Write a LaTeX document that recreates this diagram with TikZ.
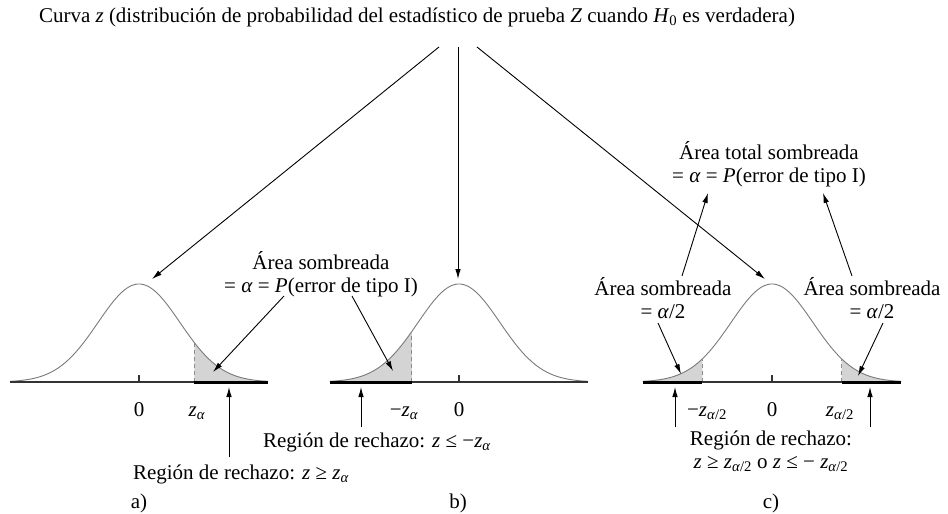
\documentclass[tikz,border=0pt]{standalone}
\usepackage{fontspec}
\setmainfont{Liberation Serif}
\usetikzlibrary{arrows.meta}
\newcommand\mz{\textit{z}}
\newcommand\mal{\textit{α}}
\newcommand\msub[1]{\textsubscript{#1}}
\begin{document}
\begin{tikzpicture}[x=1pt,y=-1pt,
  lab/.style={font=\fontsize{21}{23}\selectfont, inner sep=0pt, align=center},
  arr/.style={-{Latex[length=10pt,width=5.5pt]}, line width=0.9pt, black},
  bell/.style={draw=black!52, line width=0.9pt},
  shadereg/.style={fill=black!17},
  dashln/.style={draw=black!45, line width=0.9pt, dash pattern=on 4pt off 3pt},
  axisln/.style={draw=black!80, line width=1.1pt},
  rejln/.style={draw=black, line width=3pt}]
\useasboundingbox (0,0) rectangle (948,514);

% ---------- shading ----------
\fill[shadereg] (194.35,382) -- plot[domain=1.35:3.15,samples=40] ({139+41*\x},{382-98*exp(-0.5*(\x)*(\x))}) -- (268.15,382) -- cycle;
\fill[shadereg] (329.85,382) -- plot[domain=-3.15:-1.15,samples=40] ({459+41*\x},{382-98*exp(-0.5*(\x)*(\x))}) -- (411.85,382) -- cycle;
\fill[shadereg] (642.85,382) -- plot[domain=-3.15:-1.7,samples=40] ({772+41*\x},{382-98*exp(-0.5*(\x)*(\x))}) -- (702.3,382) -- cycle;
\fill[shadereg] (841.7,382) -- plot[domain=1.7:3.15,samples=40] ({772+41*\x},{382-98*exp(-0.5*(\x)*(\x))}) -- (901.15,382) -- cycle;

% ---------- curves ----------
\draw[bell] plot[domain=-3.15:3.15,samples=120] ({139+41*\x},{382-98*exp(-0.5*(\x)*(\x))});
\draw[bell] plot[domain=-3.15:3.15,samples=120] ({459+41*\x},{382-98*exp(-0.5*(\x)*(\x))});
\draw[bell] plot[domain=-3.15:3.15,samples=120] ({772+41*\x},{382-98*exp(-0.5*(\x)*(\x))});

% ---------- dashed boundaries ----------
\draw[dashln] (194.35,382) -- (194.35,{382-98*exp(-0.5*1.35*1.35)});
\draw[dashln] (411.85,382) -- (411.85,{382-98*exp(-0.5*1.15*1.15)});
\draw[dashln] (702.3,382) -- (702.3,{382-98*exp(-0.5*1.7*1.7)});
\draw[dashln] (841.7,382) -- (841.7,{382-98*exp(-0.5*1.7*1.7)});

% ---------- axes ----------
\draw[axisln] (10,382) -- (268,382);
\draw[axisln] (330,382) -- (588,382);
\draw[axisln] (643,382) -- (901,382);
\draw[axisln] (139,382) -- (139,375);
\draw[axisln] (459,382) -- (459,375);
\draw[axisln] (772,382) -- (772,375);
\draw[rejln] (194.35,382) -- (268,382);
\draw[rejln] (330,382) -- (411.85,382);
\draw[rejln] (643,382) -- (702.3,382);
\draw[rejln] (841.7,382) -- (901,382);

% ---------- labels ----------
\node[lab] (title) at (417,17) {Curva \mz{} (distribución de probabilidad del estadístico de prueba \textit{Z} cuando \textit{H}\msub{0} es verdadera)};
\node[lab] (areaAB) at (321,274) {Área sombreada\\= \mal{} = \textit{P}(error de tipo I)};
\node[lab] (areaT) at (769,164) {Área total sombreada\\= \mal{} = \textit{P}(error de tipo I)};
\node[lab] (areaL) at (663,298) {Área sombreada\\= \mal/2};
\node[lab] (areaR) at (872,298) {Área sombreada\\= \mal/2};

\node[lab,anchor=base] (zeroA) at (139,416) {0};
\node[lab,anchor=base] (zeroB) at (459,416) {0};
\node[lab,anchor=base] (zeroC) at (772,416) {0};
\node[lab,anchor=base] (za) at (197,416) {\mz\msub{\mal}};
\node[lab,anchor=base] (mza) at (404,416) {−\mz\msub{\mal}};
\node[lab,anchor=base] (mza2) at (707,416) {−\mz\msub{\mal/2}};
\node[lab,anchor=base] (za2) at (840,416) {\mz\msub{\mal/2}};

\node[lab] (rejA) at (241,474) {Región de rechazo: \mz{} ≥ \mz\msub{\mal}};
\node[lab] (rejB) at (377,442) {Región de rechazo: \mz{} ≤ −\mz\msub{\mal}};
\node[lab] (rejC) at (771,451) {Región de rechazo:\\\mz{} ≥ \mz\msub{\mal/2} o \mz{} ≤ − \mz\msub{\mal/2}};
\node[lab] (pa) at (139,503) {a)};
\node[lab] (pb) at (458,503) {b)};
\node[lab] (pc) at (771,503) {c)};

% ---------- connector end points ----------
\coordinate (t1) at (439,47);
\coordinate (t2) at (458,47);
\coordinate (t3) at (477,47);
\coordinate (pkA) at (152,279);
\coordinate (pkB) at (458,279);
\coordinate (pkC) at (765,279);
\coordinate (abL) at (284,296);
\coordinate (abR) at (352,296);
\coordinate (shA) at (213,372);
\coordinate (shB) at (393,371);
\coordinate (cL1) at (682,276);
\coordinate (cR1) at (852,276);
\coordinate (tL) at (708,193);
\coordinate (tR) at (823,193);
\coordinate (cL2) at (658,323);
\coordinate (cR2) at (883,323);
\coordinate (shCL) at (681,374);
\coordinate (shCR) at (858,376);
\coordinate (rA0) at (229,457);
\coordinate (rA1) at (229,387);
\coordinate (rB0) at (361,427);
\coordinate (rB1) at (361,387);
\coordinate (rC0) at (675,427);
\coordinate (rC1) at (675,387);
\coordinate (rD0) at (870,427);
\coordinate (rD1) at (870,387);

% ---------- connectors ----------
\draw[arr] (t1) -- (pkA);
\draw[arr] (t2) -- (pkB);
\draw[arr] (t3) -- (pkC);
\draw[arr] (abL) -- (shA);
\draw[arr] (abR) -- (shB);
\draw[arr] (cL1) -- (tL);
\draw[arr] (cR1) -- (tR);
\draw[arr] (cL2) -- (shCL);
\draw[arr] (cR2) -- (shCR);
\draw[arr] (rA0) -- (rA1);
\draw[arr] (rB0) -- (rB1);
\draw[arr] (rC0) -- (rC1);
\draw[arr] (rD0) -- (rD1);
\end{tikzpicture}
\end{document}
